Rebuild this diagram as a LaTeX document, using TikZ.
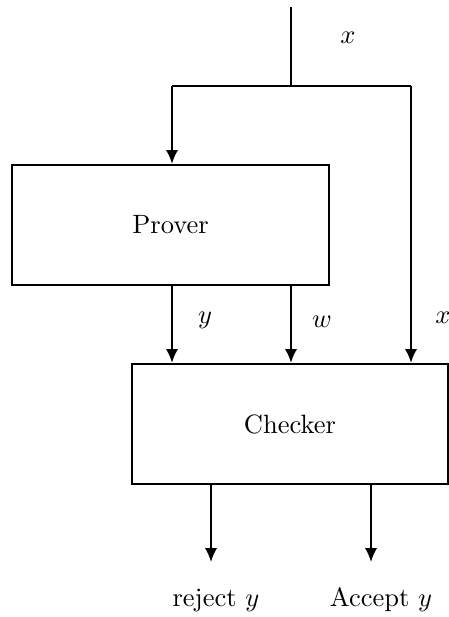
\documentclass[tikz,border=0pt]{standalone}
\usetikzlibrary{arrows.meta}
\begin{document}
\begin{tikzpicture}[x=0.3774pt,y=-0.3774pt,
  box/.style={draw,line width=0.8pt,inner sep=0pt},
  conn/.style={line width=0.8pt},
  arr/.style={conn,-{Latex[length=5.2pt,width=4.6pt]}},
  lbl/.style={inner sep=0pt}]
\useasboundingbox (0,0) rectangle (448,617);
% boxes
\node[box,minimum width=317*0.3774pt,minimum height=120*0.3774pt] (prover) at (170.5,225) {Prover};
\node[box,minimum width=316*0.3774pt,minimum height=120*0.3774pt] (checker) at (290,424) {Checker};
% coordinates
\coordinate (in) at (291,7);
\coordinate (split) at (291,86);
\coordinate (lc) at (172,86);
\coordinate (rc) at (411,86);
\coordinate (out1) at (211,562);
\coordinate (out2) at (371,562);
% connectors
\draw[conn] (in) -- (split);
\draw[conn] (lc) -- (rc);
\draw[arr] (lc) -- (lc |- prover.north);
\draw[arr] (rc) -- (rc |- checker.north);
\draw[arr] (lc |- prover.south) -- (lc |- checker.north);
\draw[arr] (split |- prover.south) -- (split |- checker.north);
\draw[arr] (out1 |- checker.south) -- (out1);
\draw[arr] (out2 |- checker.south) -- (out2);
% labels
\node[lbl] (lx) at (348,38) {$x$};
\node[lbl] (ly) at (205,320) {$y$};
\node[lbl] (lw) at (322,322) {$w$};
\node[lbl] (lx2) at (443,318) {$x$};
\node[lbl,anchor=base] (rej) at (216,606) {reject $y$};
\node[lbl,anchor=base] (acc) at (381,606) {Accept $y$};
\end{tikzpicture}
\end{document}
